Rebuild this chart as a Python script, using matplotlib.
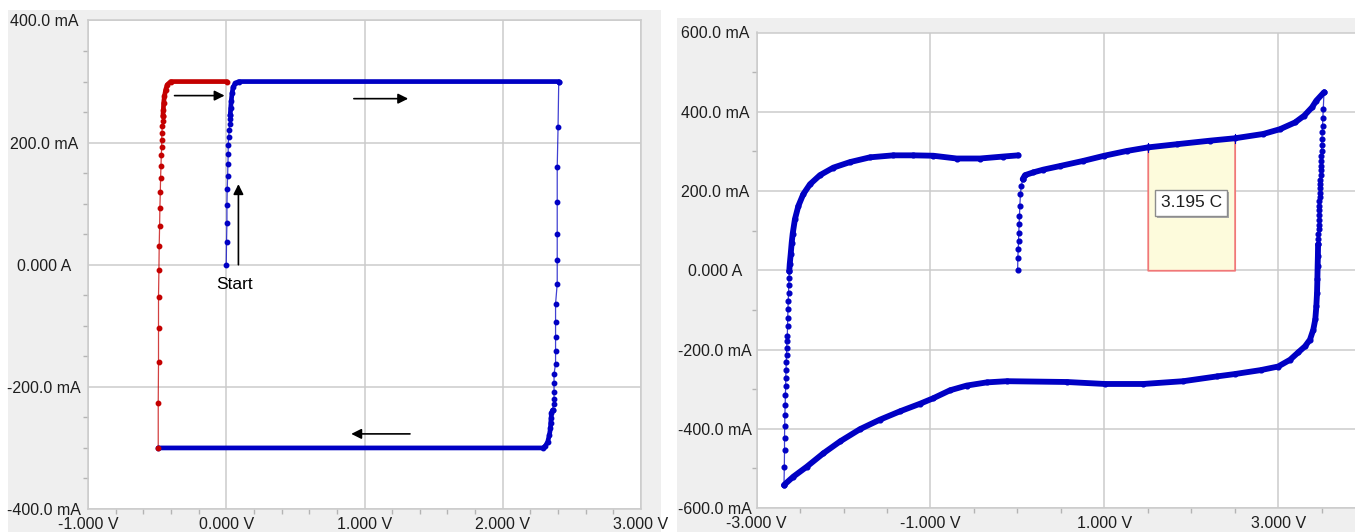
import numpy as np
import matplotlib
matplotlib.use("Agg")
import matplotlib.pyplot as plt
import matplotlib.transforms as mtransforms
from matplotlib.patches import Rectangle
from matplotlib.ticker import FixedLocator, MultipleLocator, FuncFormatter

# ---------------------------------------------------------------------------
# Left panel: galvanostatic sweep (V, mA)
# ---------------------------------------------------------------------------
start_rise_v = [0.000, 0.002, 0.005, 0.005, 0.007, 0.010, 0.012, 0.014, 0.014,
                0.017, 0.022, 0.024, 0.027, 0.029]
start_rise_i = [0, 37, 69, 98, 124, 145, 165, 181, 196, 209, 221, 231, 239, 246]

charge_plateau_v = [0.029, 0.032, 0.036, 0.042, 0.050, 0.065, 0.090, 2.405]
charge_plateau_i = [246, 256, 268, 281, 291, 297, 300, 300]

reversal_v = [2.405, 2.400, 2.394, 2.394, 2.394, 2.394, 2.394, 2.382, 2.382,
              2.382, 2.382, 2.382, 2.371, 2.371, 2.371, 2.371, 2.368, 2.360]
reversal_i = [300, 225, 160, 102, 51, 8, -31, -64, -93, -119, -142, -162,
              -179, -194, -208, -220, -228, -238]

discharge_plateau_v = [2.360, 2.352, 2.350, 2.347, 2.345, 2.337, 2.325, 2.308,
                       2.289, -0.492]
discharge_plateau_i = [-238, -243, -251, -259, -268, -279, -290, -297, -300, -300]

return_rise_v = [-0.492, -0.492, -0.490, -0.490, -0.490, -0.487, -0.485, -0.482,
                 -0.480, -0.477, -0.475, -0.472, -0.470, -0.467, -0.467, -0.465,
                 -0.463, -0.460, -0.458]
return_rise_i = [-300, -226, -160, -103, -52, -8, 31, 64, 93, 119, 142, 162,
                 179, 193, 205, 216, 227, 235, 244]

return_plateau_v = [-0.458, -0.455, -0.453, -0.447, -0.438, -0.426, -0.402, 0.005]
return_plateau_i = [244, 254, 265, 276, 287, 295, 300, 300]

left_xticks = [-1, 0, 1, 2, 3]
left_yticks = [-400, -200, 0, 200, 400]

# ---------------------------------------------------------------------------
# Right panel: cyclic voltammogram (V, mA)
# ---------------------------------------------------------------------------
cv_start_v = [0.003, 0.005, 0.010, 0.013, 0.016, 0.020, 0.024, 0.028, 0.035,
              0.045, 0.061]
cv_start_i = [0, 32, 53, 74, 95, 116, 137, 162, 192, 213, 230]

cv_anodic_v = [0.061, 0.088, 0.183, 0.300, 0.490, 0.758, 1.000, 1.258, 1.500,
               1.833, 2.216, 2.500, 2.830, 3.022, 3.195, 3.300, 3.390, 3.440, 3.528]
cv_anodic_i = [230, 240, 247, 254, 263, 276, 289, 301, 310, 318, 327, 333, 344,
               356, 373, 390, 411, 428, 449]

cv_turn_v = [3.528, 3.520, 3.515, 3.512, 3.508, 3.505, 3.502, 3.500, 3.497,
             3.495, 3.492, 3.490, 3.488, 3.486, 3.484, 3.482, 3.480, 3.478,
             3.476, 3.474, 3.472, 3.470, 3.468, 3.466, 3.465, 3.463, 3.462, 3.460]
cv_turn_i = [449, 407, 383, 365, 348, 331, 317, 302, 289, 276, 264, 252, 240,
             229, 218, 207, 196, 185, 174, 162, 151, 139, 127, 115, 103, 91, 78, 65]

cv_cathodic_v = [3.460, 3.458, 3.455, 3.452, 3.448, 3.440, 3.428, 3.405, 3.367,
                 3.310, 3.233, 3.137, 3.000, 2.800, 2.500, 2.293, 1.909, 1.449,
                 1.008, 0.567, -0.123, -0.353, -0.583, -0.776, -0.968, -1.122,
                 -1.351, -1.581, -1.811, -2.041, -2.233, -2.425, -2.579, -2.686]
cv_cathodic_i = [65, 36, 10, -23, -57, -91, -124, -150, -175, -192, -207, -226,
                 -243, -252, -262, -268, -280, -287, -287, -282, -280, -283, -291,
                 -303, -323, -337, -356, -377, -401, -432, -462, -496, -521, -542]

cv_vertex_v = [-2.686, -2.682, -2.680, -2.680, -2.678, -2.676, -2.672, -2.670,
               -2.666, -2.666, -2.662, -2.660, -2.657, -2.655, -2.651, -2.648,
               -2.645, -2.643, -2.640, -2.637, -2.634, -2.631, -2.628, -2.625]
cv_vertex_i = [-542, -496, -453, -424, -394, -365, -339, -314, -293, -272, -251,
               -232, -213, -196, -179, -167, -141, -120, -99, -78, -57, -38, -19, -2]

cv_return_v = [-2.625, -2.620, -2.609, -2.597, -2.586, -2.560, -2.521, -2.464,
               -2.387, -2.272, -2.118, -1.926, -1.696, -1.428, -1.198, -0.968,
               -0.699, -0.430, -0.162, 0.010]
cv_return_i = [-2, 15, 40, 70, 92, 129, 162, 192, 217, 240, 259, 273, 285, 290,
               290, 289, 282, 282, 287, 290]

charge_window = [1.5, 2.5]
charge_label = "3.195 C"

right_xticks = [-3, -1, 1, 3]
right_yticks = [-600, -400, -200, 0, 200, 400, 600]

# ---------------------------------------------------------------------------
plt.rcParams["font.family"] = ["Liberation Sans", "DejaVu Sans"]

W, H = 1355, 532
fig = plt.figure(figsize=(W / 100, H / 100), dpi=100)
fig.patch.set_facecolor("white")

PANEL = "#efefef"
GRID = "#cbcbcb"
BLUE = "#0000c4"
RED = "#c40000"
TEXT = "#1e1e1e"
TICK_FS = 11.5


def px_box(x0, y0, x1, y1):
    return [x0 / W, 1 - y1 / H, (x1 - x0) / W, (y1 - y0) / H]


fig.add_artist(Rectangle((8 / W, 0), (661 - 8) / W, 1 - 10 / H,
                         transform=fig.transFigure, fc=PANEL, ec="none", zorder=0))
fig.add_artist(Rectangle((677 / W, 0), (W - 677) / W, 1 - 18 / H,
                         transform=fig.transFigure, fc=PANEL, ec="none", zorder=0))

ax1 = fig.add_axes(px_box(88, 20.5, 641, 509))
ax2 = fig.add_axes(px_box(756.7, 32.5, W, 508))


def current_label(v, _pos=None):
    if abs(v) < 1e-9:
        return "0.000 A"
    return f"{v:.1f} mA"


def volt_label(v, _pos=None):
    return f"{v:.3f} V"


def style_axes(ax, xlim, ylim, xticks, yticks, xminor, yminor, ypad):
    ax.set_xlim(*xlim)
    ax.set_ylim(*ylim)
    ax.set_facecolor("white")
    ax.xaxis.set_major_locator(FixedLocator(xticks))
    ax.yaxis.set_major_locator(FixedLocator(yticks))
    ax.xaxis.set_minor_locator(MultipleLocator(xminor))
    ax.yaxis.set_minor_locator(MultipleLocator(yminor))
    ax.xaxis.set_major_formatter(FuncFormatter(volt_label))
    ax.yaxis.set_major_formatter(FuncFormatter(current_label))
    ax.grid(which="major", color=GRID, lw=1.1)
    ax.set_axisbelow(True)
    for s in ax.spines.values():
        s.set_color(GRID)
        s.set_linewidth(1.1)
    ax.tick_params(which="major", length=0, labelsize=TICK_FS, labelcolor=TEXT)
    ax.tick_params(which="minor", length=3.5, width=1, color="#b4b4b4", direction="out")
    ax.tick_params(axis="x", which="major", pad=6)
    ax.tick_params(axis="y", which="major", pad=ypad)
    for t in ax.yaxis.get_major_ticks():
        t.label1.set_horizontalalignment("center")


def trace(ax, v, i, color, dense, ms=3.2, lw_dense=3.4):
    if dense:
        ax.plot(v, i, color=color, lw=lw_dense, solid_capstyle="round",
                solid_joinstyle="round", zorder=3)
    ax.plot(v, i, color=color, lw=0.9, alpha=0.75, zorder=4)
    ax.plot(v, i, ls="none", marker="o", ms=ms, mfc=color, mec=color, zorder=5)


# --- left panel ---
style_axes(ax1, (-1, 3), (-400, 400), left_xticks, left_yticks, 0.2, 50, 31.7)

trace(ax1, start_rise_v, start_rise_i, BLUE, False)
trace(ax1, charge_plateau_v, charge_plateau_i, BLUE, True)
trace(ax1, reversal_v, reversal_i, BLUE, False)
trace(ax1, discharge_plateau_v, discharge_plateau_i, BLUE, True)
trace(ax1, return_rise_v, return_rise_i, RED, False)
trace(ax1, return_plateau_v, return_plateau_i, RED, True)

arrow_kw = dict(arrowstyle="-|>", color="black", lw=1.2, mutation_scale=15,
                shrinkA=0, shrinkB=0)
for tail, head in [((-0.374, 277), (-0.012, 277)),
                   ((0.923, 272), (1.316, 272)),
                   ((1.329, -277), (0.904, -277)),
                   ((0.088, 0), (0.088, 132))]:
    ax1.annotate("", xy=head, xytext=tail, arrowprops=arrow_kw, zorder=6)
ax1.text(0.062, -33, "Start", ha="center", va="center", fontsize=12.5, color="black")

# --- right panel ---
style_axes(ax2, (-3, 3.885), (-600, 600), right_xticks, right_yticks, 0.5, 100, 30)
ax2.spines["right"].set_visible(False)

va = np.array(cv_anodic_v)
ia = np.array(cv_anodic_i)
sel = (va >= charge_window[0] - 1e-9) & (va <= charge_window[1] + 1e-9)
ax2.fill_between(va[sel], 0, ia[sel], facecolor="#fdfbdc", edgecolor="#f07878",
                 lw=1.3, zorder=2)
for xv in charge_window:
    yv = np.interp(xv, va, ia)
    ax2.plot([xv, xv], [yv - 12, yv + 12], color=BLUE, lw=0.8, zorder=6)

trace(ax2, cv_start_v, cv_start_i, BLUE, False, ms=3.4)
trace(ax2, cv_anodic_v, cv_anodic_i, BLUE, True, ms=3.4, lw_dense=4.2)
trace(ax2, cv_turn_v, cv_turn_i, BLUE, False, ms=3.4)
trace(ax2, cv_cathodic_v, cv_cathodic_i, BLUE, True, ms=3.4, lw_dense=4.2)
trace(ax2, cv_vertex_v, cv_vertex_i, BLUE, False, ms=3.4)
trace(ax2, cv_return_v, cv_return_i, BLUE, True, ms=3.4, lw_dense=4.2)

label_x = float(np.mean(charge_window))
label_y = 170
shadow = mtransforms.offset_copy(ax2.transData, fig=fig, x=2, y=-2, units="dots")
ax2.text(label_x, label_y, charge_label, ha="center", va="center", fontsize=12.5,
         color="none", transform=shadow, zorder=7,
         bbox=dict(boxstyle="square,pad=0.3", fc="#a8a8a8", ec="none"))
ax2.text(label_x, label_y, charge_label, ha="center", va="center", fontsize=12.5,
         color=TEXT, zorder=8,
         bbox=dict(boxstyle="square,pad=0.3", fc="white", ec="#8c8c8c", lw=1))

fig.savefig("out.png", dpi=100, facecolor="white")
